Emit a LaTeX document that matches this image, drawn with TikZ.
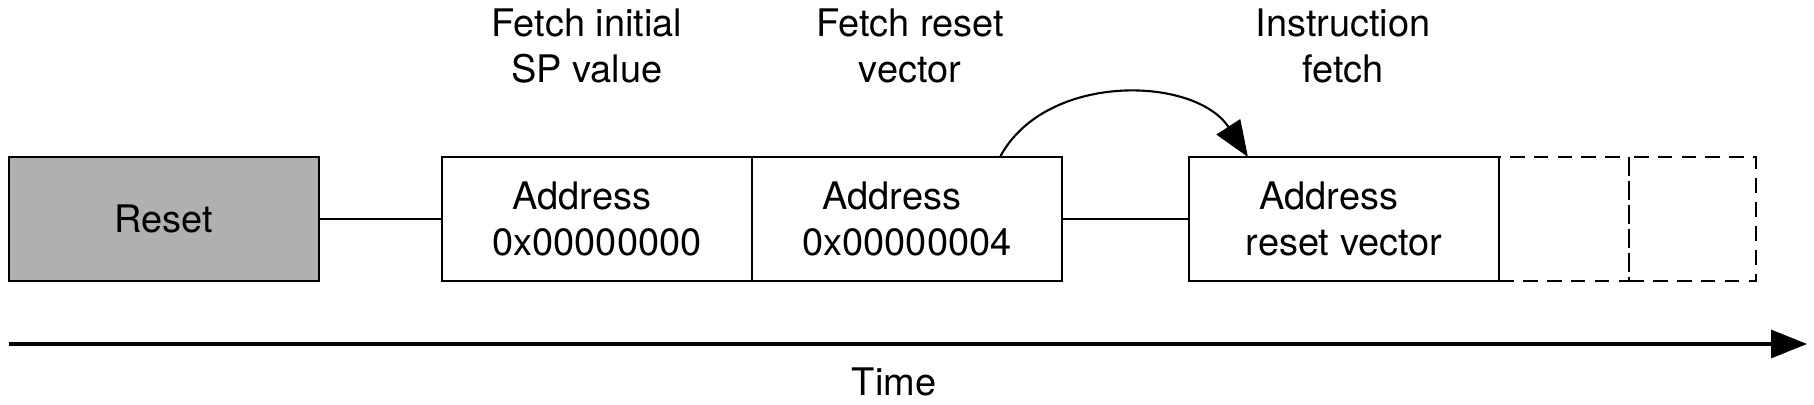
\documentclass[tikz,border=0pt]{standalone}
\usepackage{fontspec}
\setmainfont{TeX Gyre Heros}
\usetikzlibrary{arrows.meta, positioning, calc}
\definecolor{resetgray}{RGB}{176,176,176}
\newcommand{\addrline}{Address\hspace*{3mm}}
\tikzset{
  >={Triangle[length=3.6mm, width=2.8mm]},
  wire/.style   ={line width=0.6pt},
  busbox/.style ={rectangle, draw, line width=0.8pt, minimum width=3.1cm,
                  minimum height=1.24cm, inner sep=2pt, outer sep=0pt, align=center},
  resetbox/.style={busbox, fill=resetgray},
  slot/.style   ={rectangle, draw, line width=0.8pt, dash pattern=on 4.2pt off 2.6pt,
                  minimum height=1.24cm, inner sep=0pt, outer sep=0pt},
  phase/.style  ={align=center},
}

\begin{document}
\begin{tikzpicture}[font=\fontsize{10.8pt}{13.1pt}\selectfont]
  \useasboundingbox (0,0) rectangle (18.14,4.05);
  % --- bus cycles after reset -------------------------------------------
  \node[resetbox] (reset) at (1.64,1.86) {Reset};
  \node[busbox, right=1.23cm of reset] (b1) {\addrline\\0x00000000};
  \node[busbox, right=0cm of b1]       (b2) {\addrline\\0x00000004};
  \node[busbox, right=1.27cm of b2]    (b3) {\addrline\\reset vector};
  \node[slot, minimum width=1.3cm, right=0cm of b3]  (d1) {};
  \node[slot, minimum width=1.27cm, right=0cm of d1] (d2) {};

  \node[phase] (l1) at (5.87,3.59)  {Fetch initial\\SP value};
  \node[phase] (l2) at (9.10,3.59)  {Fetch reset\\vector};
  \node[phase] (l3) at (13.43,3.59) {Instruction\\fetch};

  \draw[wire] (reset) -- (b1);
  \draw[wire] (b2) -- (b3);

  % jump from the vector fetch to the first instruction fetch
  \coordinate (jmp0) at ($(b2.north west)!0.8!(b2.north east)$);
  \coordinate (jmp1) at ($(b3.north west)!0.19!(b3.north east)$);
  \draw[wire,->] (jmp0) to[out=62,in=123] (jmp1);

  % --- time axis --------------------------------------------------------
  \coordinate (t0) at (0.09,0.61);
  \coordinate (t1) at (18.07,0.61);
  \draw[line width=0.9pt,->] (t0) -- (t1);
  \node (time) at (8.94,0.23) {Time};
\end{tikzpicture}
\end{document}
